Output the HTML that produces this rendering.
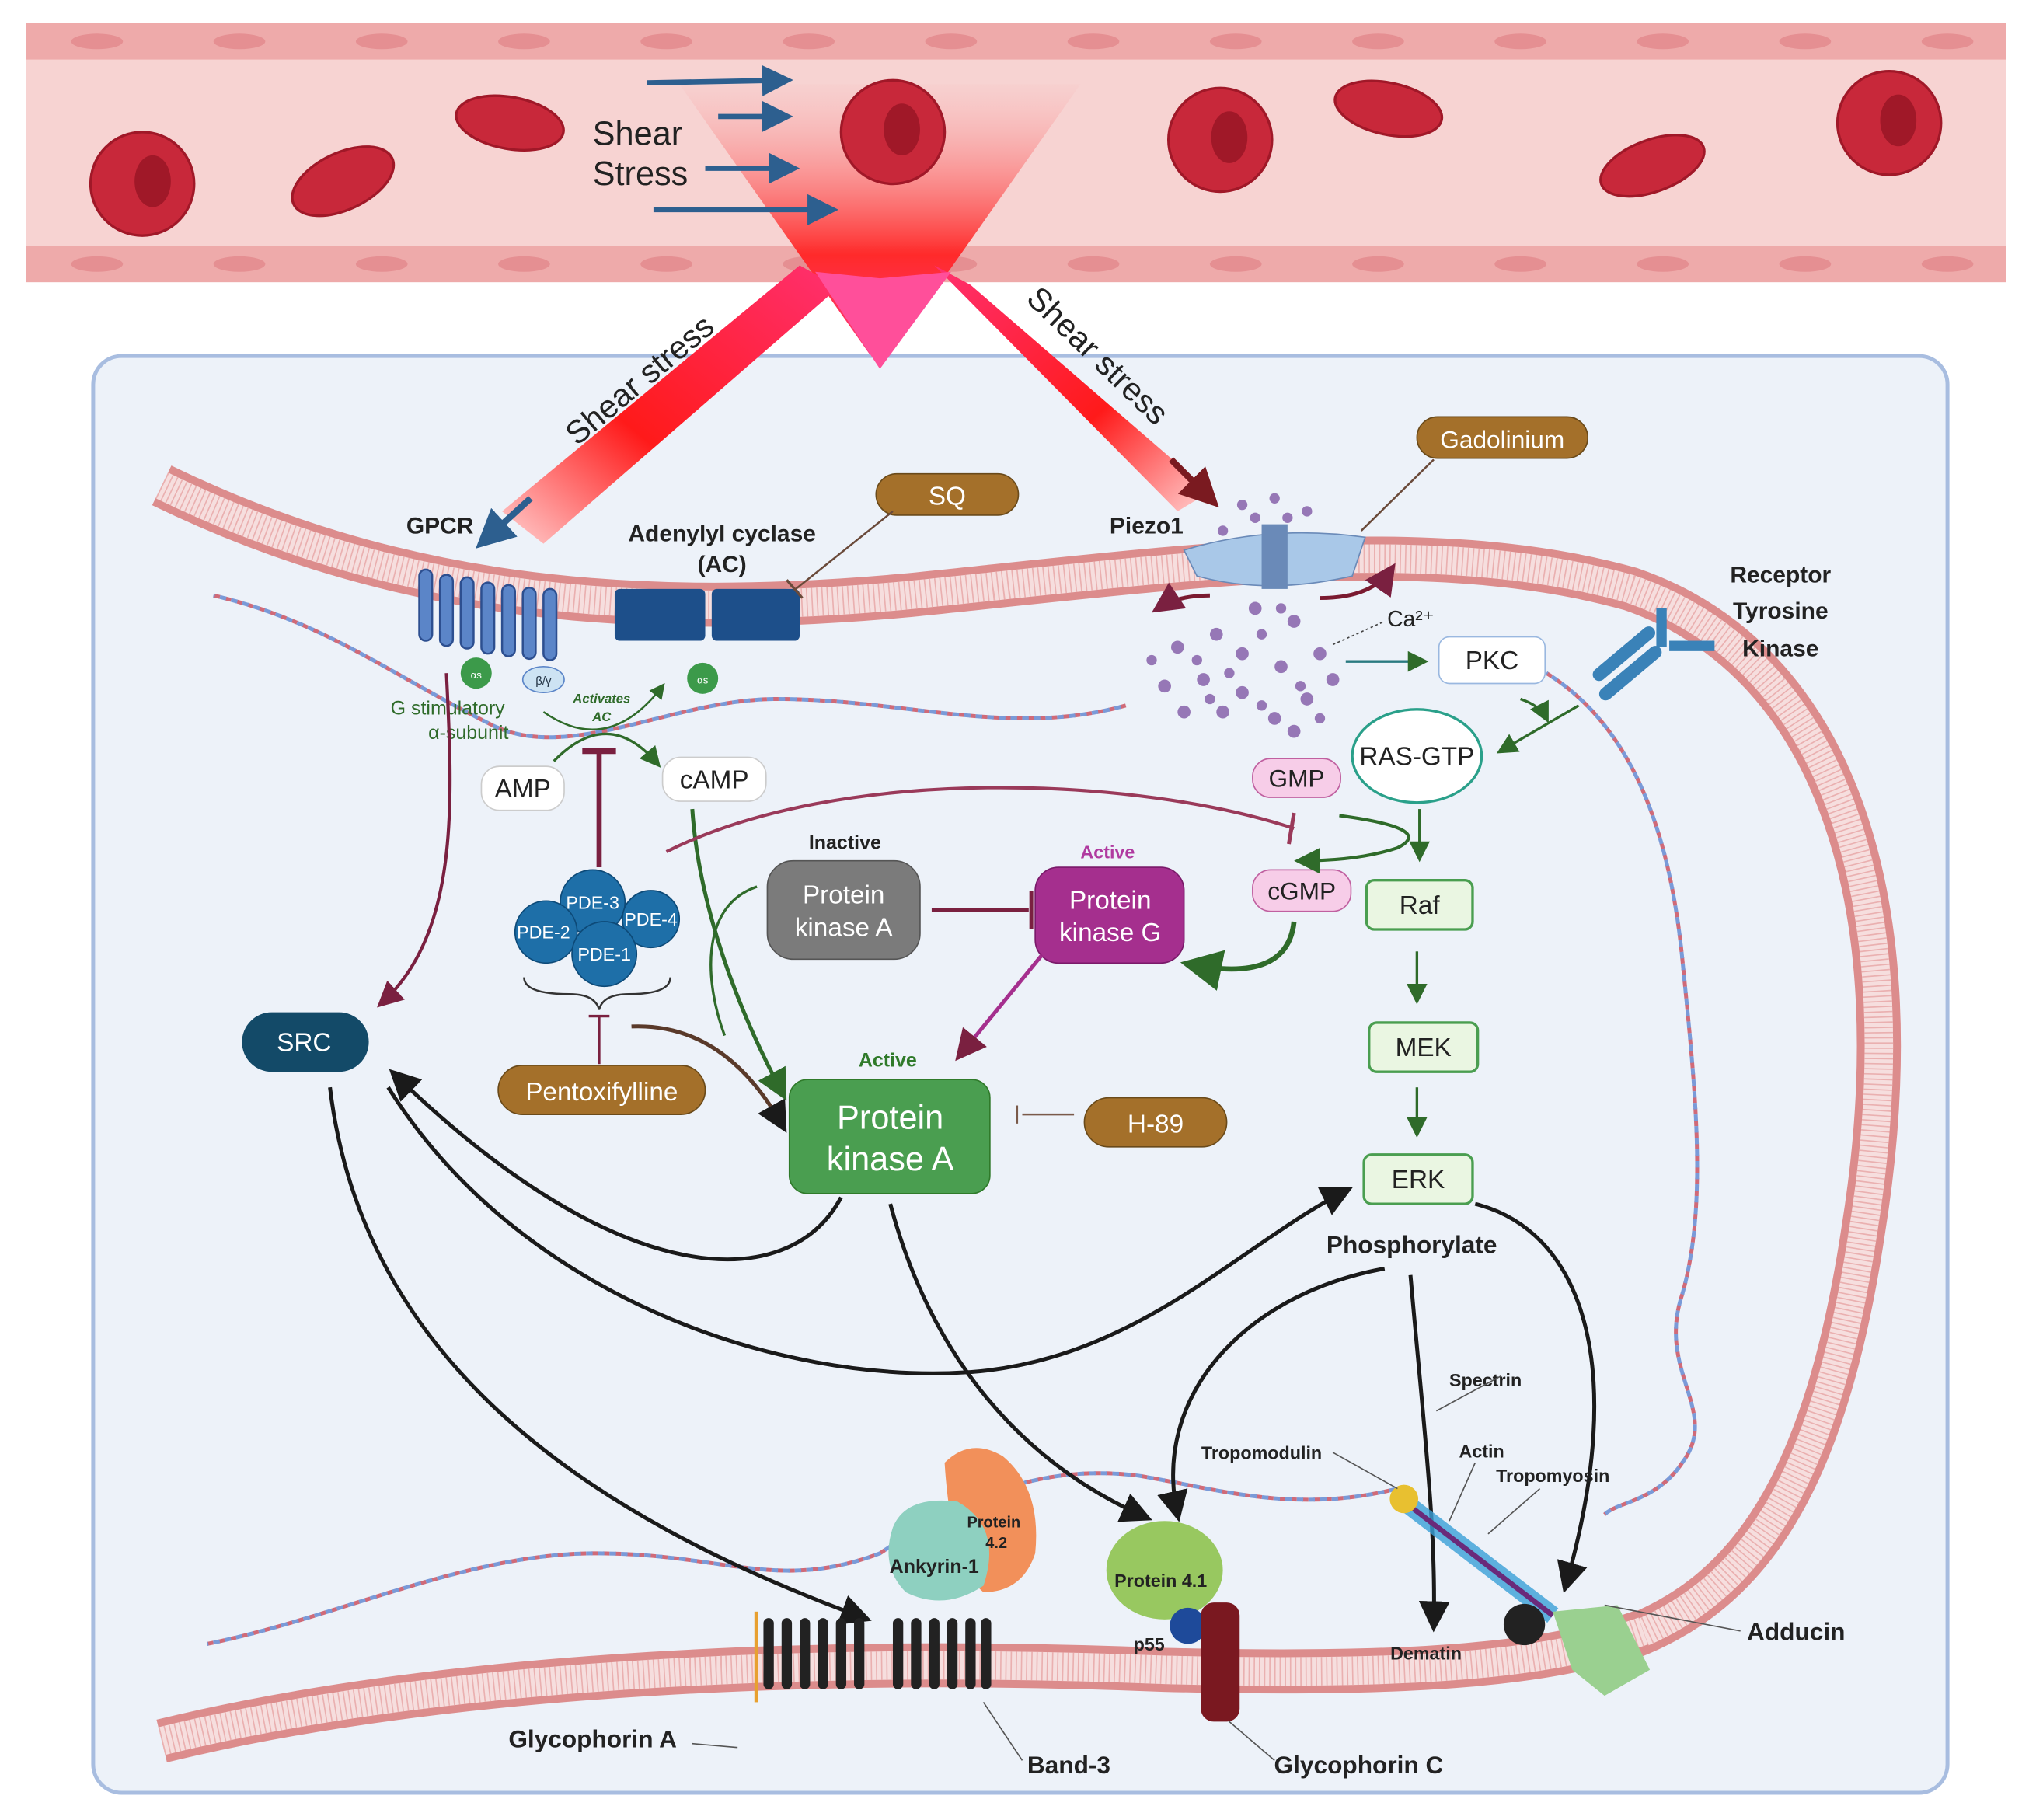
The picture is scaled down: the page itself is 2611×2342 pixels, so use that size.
<!DOCTYPE html>
<html><head><meta charset="utf-8"><style>
html,body{margin:0;padding:0;background:#fff;}
svg{display:block;}
text{font-family:"Liberation Sans",sans-serif;}
</style></head><body>
<svg width="2611" height="2342" viewBox="0 0 1568 1406" preserveAspectRatio="none" xmlns="http://www.w3.org/2000/svg">
<defs>
<linearGradient id="tri" x1="0" y1="0" x2="0" y2="1"><stop offset="0" stop-color="#f7c9c9" stop-opacity="0.3"/><stop offset="0.6" stop-color="#ff2a2a"/><stop offset="1" stop-color="#ff3d8a"/></linearGradient>
<linearGradient id="bl" x1="1" y1="0" x2="0" y2="1"><stop offset="0" stop-color="#ff3070"/><stop offset="0.6" stop-color="#ff1a1a"/><stop offset="1" stop-color="#ffd0d0"/></linearGradient>
<linearGradient id="br" x1="0" y1="0" x2="1" y2="1"><stop offset="0" stop-color="#ff3070"/><stop offset="0.6" stop-color="#ff1a1a"/><stop offset="1" stop-color="#ffd0d0"/></linearGradient>
<marker id="ak" markerWidth="8" markerHeight="8" refX="6" refY="4" orient="auto" markerUnits="strokeWidth"><path d="M0,0 L8,4 L0,8 z" fill="#1a1a1a"/></marker>
<marker id="ag" markerWidth="8" markerHeight="8" refX="6" refY="4" orient="auto" markerUnits="strokeWidth"><path d="M0,0 L8,4 L0,8 z" fill="#2f6b2a"/></marker>
<marker id="am" markerWidth="8" markerHeight="8" refX="6" refY="4" orient="auto" markerUnits="strokeWidth"><path d="M0,0 L8,4 L0,8 z" fill="#7a2040"/></marker>
<marker id="ab" markerWidth="6" markerHeight="6" refX="4" refY="3" orient="auto" markerUnits="strokeWidth"><path d="M0,0 L6,3 L0,6 z" fill="#2d5f8f"/></marker>
<marker id="ar" markerWidth="6" markerHeight="6" refX="4" refY="3" orient="auto" markerUnits="strokeWidth"><path d="M0,0 L6,3 L0,6 z" fill="#7a1a20"/></marker>
</defs>
<!-- vessel -->
<rect x="20" y="18" width="1530" height="200" fill="#f7d3d2"/>
<rect x="20" y="18" width="1530" height="28" fill="#eeaaaa"/>
<rect x="20" y="190" width="1530" height="28" fill="#eeaaaa"/>
<g fill="#e58f92">
<ellipse cx="75" cy="32" rx="20" ry="6"/><ellipse cx="185" cy="32" rx="20" ry="6"/><ellipse cx="295" cy="32" rx="20" ry="6"/><ellipse cx="405" cy="32" rx="20" ry="6"/><ellipse cx="515" cy="32" rx="20" ry="6"/><ellipse cx="625" cy="32" rx="20" ry="6"/><ellipse cx="735" cy="32" rx="20" ry="6"/><ellipse cx="845" cy="32" rx="20" ry="6"/><ellipse cx="955" cy="32" rx="20" ry="6"/><ellipse cx="1065" cy="32" rx="20" ry="6"/><ellipse cx="1175" cy="32" rx="20" ry="6"/><ellipse cx="1285" cy="32" rx="20" ry="6"/><ellipse cx="1395" cy="32" rx="20" ry="6"/><ellipse cx="1505" cy="32" rx="20" ry="6"/>
<ellipse cx="75" cy="204" rx="20" ry="6"/><ellipse cx="185" cy="204" rx="20" ry="6"/><ellipse cx="295" cy="204" rx="20" ry="6"/><ellipse cx="405" cy="204" rx="20" ry="6"/><ellipse cx="515" cy="204" rx="20" ry="6"/><ellipse cx="625" cy="204" rx="20" ry="6"/><ellipse cx="735" cy="204" rx="20" ry="6"/><ellipse cx="845" cy="204" rx="20" ry="6"/><ellipse cx="955" cy="204" rx="20" ry="6"/><ellipse cx="1065" cy="204" rx="20" ry="6"/><ellipse cx="1175" cy="204" rx="20" ry="6"/><ellipse cx="1285" cy="204" rx="20" ry="6"/><ellipse cx="1395" cy="204" rx="20" ry="6"/><ellipse cx="1505" cy="204" rx="20" ry="6"/>
</g>
<g fill="#c8283a" stroke="#a01828" stroke-width="2">
<circle cx="110" cy="142" r="40"/><ellipse cx="265" cy="140" rx="42" ry="22" transform="rotate(-25 265 140)"/><ellipse cx="394" cy="95" rx="42" ry="20" transform="rotate(10 394 95)"/><circle cx="943" cy="108" r="40"/><ellipse cx="1073" cy="84" rx="42" ry="20" transform="rotate(12 1073 84)"/><ellipse cx="1277" cy="128" rx="42" ry="20" transform="rotate(-20 1277 128)"/><circle cx="1460" cy="95" r="40"/>
</g>
<g fill="#a01828"><ellipse cx="118" cy="140" rx="14" ry="20"/><ellipse cx="950" cy="106" rx="14" ry="20"/><ellipse cx="1467" cy="93" rx="14" ry="20"/></g>
<!-- triangle -->
<path d="M525,65 L835,65 L680,285 z" fill="url(#tri)"/>
<circle cx="690" cy="102" r="40" fill="#c8283a" stroke="#a01828" stroke-width="2"/>
<ellipse cx="697" cy="100" rx="14" ry="20" fill="#a01828"/>
<g stroke="#2d5f8f" stroke-width="4" fill="none" marker-end="url(#ab)">
<line x1="500" y1="64" x2="605" y2="62"/><line x1="555" y1="90" x2="605" y2="90"/><line x1="545" y1="130" x2="610" y2="130"/><line x1="505" y1="162" x2="640" y2="162"/>
</g>
<text x="458" y="112" font-size="26" fill="#222">Shear</text><text x="458" y="143" font-size="26" fill="#222">Stress</text>
<!-- cell -->
<rect x="72" y="275" width="1433" height="1110" rx="22" fill="#edf2f9" stroke="#a8bde0" stroke-width="3"/>
<!-- membranes -->
<g fill="none">
<path d="M125,375 C300,460 480,480 700,460 C900,440 1100,410 1260,455 C1420,510 1480,700 1440,950 C1410,1150 1350,1230 1260,1265" stroke="#dc8c8c" stroke-width="34"/>
<path d="M125,375 C300,460 480,480 700,460 C900,440 1100,410 1260,455 C1420,510 1480,700 1440,950 C1410,1150 1350,1230 1260,1265" stroke="#f6dede" stroke-width="22"/>
<path d="M125,375 C300,460 480,480 700,460 C900,440 1100,410 1260,455 C1420,510 1480,700 1440,950 C1410,1150 1350,1230 1260,1265" stroke="#eab0b0" stroke-width="22" stroke-dasharray="1,3"/>
<path d="M125,1345 C350,1290 650,1280 900,1290 C1100,1295 1200,1285 1270,1260" stroke="#dc8c8c" stroke-width="34"/>
<path d="M125,1345 C350,1290 650,1280 900,1290 C1100,1295 1200,1285 1270,1260" stroke="#f6dede" stroke-width="22"/>
<path d="M125,1345 C350,1290 650,1280 900,1290 C1100,1295 1200,1285 1270,1260" stroke="#eab0b0" stroke-width="22" stroke-dasharray="1,3"/>
</g>
<!-- shear beams -->
<path d="M618,205 L648,222 L420,420 L388,395 z" fill="url(#bl)"/>
<path d="M722,205 L750,220 L935,380 L910,395 z" fill="url(#br)"/>
<path d="M680,215 L735,210 L680,285 L630,210z" fill="#ff4f9a"/>
<text x="0" y="0" font-size="25" fill="#222" transform="translate(446,345) rotate(-40)">Shear stress</text>
<text x="0" y="0" font-size="25" fill="#222" transform="translate(792,232) rotate(44)">Shear stress</text>
<line x1="410" y1="385" x2="375" y2="417" stroke="#2d5f8f" stroke-width="5" marker-end="url(#ab)"/>
<line x1="905" y1="355" x2="935" y2="385" stroke="#7a1a20" stroke-width="5" marker-end="url(#ar)"/>
<!-- spectrin helices -->
<g fill="none" stroke-width="3" stroke-dasharray="5,4">
<path d="M165,460 C250,480 300,520 380,560 C440,590 520,540 600,540 C700,540 780,570 870,545" stroke="#d06a78"/>
<path d="M165,460 C250,480 300,520 380,560 C440,590 520,540 600,540 C700,540 780,570 870,545" stroke="#7a9ad8" stroke-dashoffset="4"/>
<path d="M1195,520 C1260,560 1290,640 1300,740 C1310,840 1320,930 1300,1000 C1280,1060 1330,1090 1300,1130 C1280,1160 1250,1160 1240,1170" stroke="#d06a78"/>
<path d="M1195,520 C1260,560 1290,640 1300,740 C1310,840 1320,930 1300,1000 C1280,1060 1330,1090 1300,1130 C1280,1160 1250,1160 1240,1170" stroke="#7a9ad8" stroke-dashoffset="4"/>
<path d="M160,1270 C260,1250 360,1200 460,1200 C560,1200 600,1230 680,1200 C740,1160 800,1130 880,1140 C940,1150 1000,1170 1080,1150" stroke="#d06a78"/>
<path d="M160,1270 C260,1250 360,1200 460,1200 C560,1200 600,1230 680,1200 C740,1160 800,1130 880,1140 C940,1150 1000,1170 1080,1150" stroke="#7a9ad8" stroke-dashoffset="4"/>
</g>
<!-- GPCR -->
<g fill="#5b85c8" stroke="#2d4f90" stroke-width="1.5">
<rect x="324" y="440" width="10" height="55" rx="5"/><rect x="340" y="444" width="10" height="55" rx="5"/><rect x="356" y="446" width="10" height="55" rx="5"/><rect x="372" y="450" width="10" height="55" rx="5"/><rect x="388" y="452" width="10" height="55" rx="5"/><rect x="404" y="454" width="10" height="55" rx="5"/><rect x="420" y="455" width="10" height="55" rx="5"/>
</g>
<g fill="#1d4f8a"><rect x="475" y="455" width="70" height="40" rx="4"/><rect x="550" y="455" width="68" height="40" rx="4"/></g>
<circle cx="368" cy="520" r="12" fill="#3c9a4a"/><text x="368" y="524" font-size="8" fill="#fff" text-anchor="middle">αs</text>
<ellipse cx="420" cy="525" rx="16" ry="10" fill="#cde3f3" stroke="#5b85c8"/><text x="420" y="529" font-size="9" fill="#234" text-anchor="middle">β/γ</text>
<circle cx="543" cy="524" r="12" fill="#3c9a4a"/><text x="543" y="528" font-size="8" fill="#fff" text-anchor="middle">αs</text>
<text x="340" y="412" font-size="18" font-weight="bold" fill="#222" text-anchor="middle">GPCR</text>
<text x="558" y="418" font-size="18" font-weight="bold" fill="#222" text-anchor="middle">Adenylyl cyclase</text>
<text x="558" y="442" font-size="18" font-weight="bold" fill="#222" text-anchor="middle">(AC)</text>
<text x="346" y="552" font-size="15" fill="#2f6b2a" text-anchor="middle">G stimulatory</text>
<text x="362" y="571" font-size="15" fill="#2f6b2a" text-anchor="middle">α-subunit</text>
<text x="465" y="543" font-size="10" font-style="italic" font-weight="bold" fill="#2f6b2a" text-anchor="middle">Activates</text>
<text x="465" y="557" font-size="10" font-style="italic" font-weight="bold" fill="#2f6b2a" text-anchor="middle">AC</text>
<path d="M420,550 Q470,585 512,530" fill="none" stroke="#2f6b2a" stroke-width="1.5" marker-end="url(#ag)"/>
<!-- SQ -->
<rect x="677" y="366" width="110" height="32" rx="16" fill="#a4702a" stroke="#6a4a1a"/><text x="732" y="390" font-size="20" fill="#fff" text-anchor="middle">SQ</text>
<line x1="690" y1="395" x2="615" y2="455" stroke="#6a4a3a" stroke-width="1.5"/><line x1="608" y1="448" x2="620" y2="462" stroke="#6a4a3a" stroke-width="2"/>
<!-- AMP cAMP -->
<rect x="372" y="592" width="64" height="34" rx="14" fill="#fff" stroke="#ccc"/><text x="404" y="616" font-size="20" fill="#222" text-anchor="middle">AMP</text>
<rect x="512" y="585" width="80" height="34" rx="14" fill="#fff" stroke="#ccc"/><text x="552" y="609" font-size="20" fill="#222" text-anchor="middle">cAMP</text>
<path d="M428,588 Q470,545 508,590" fill="none" stroke="#2f6b2a" stroke-width="2" marker-end="url(#ag)"/>
<line x1="463" y1="580" x2="463" y2="670" stroke="#7a2040" stroke-width="4"/><line x1="450" y1="580" x2="476" y2="580" stroke="#7a2040" stroke-width="5"/>
<!-- PDE -->
<g fill="#1e6fa8" stroke="#0d4a78">
<circle cx="458" cy="697" r="25"/><circle cx="503" cy="710" r="22"/><circle cx="422" cy="720" r="24"/><circle cx="467" cy="737" r="25"/>
</g>
<g fill="#fff" font-size="14" text-anchor="middle"><text x="458" y="702">PDE-3</text><text x="503" y="715">PDE-4</text><text x="420" y="725">PDE-2</text><text x="467" y="742">PDE-1</text></g>
<path d="M405,755 Q405,768 440,768 Q460,768 463,780 Q466,768 486,768 Q518,768 518,755" fill="none" stroke="#333" stroke-width="1.5"/>
<line x1="463" y1="785" x2="463" y2="822" stroke="#7a2040" stroke-width="2"/><line x1="455" y1="785" x2="471" y2="785" stroke="#7a2040" stroke-width="2"/>
<rect x="385" y="823" width="160" height="38" rx="19" fill="#a4702a" stroke="#6a4a1a"/><text x="465" y="850" font-size="20" fill="#fff" text-anchor="middle">Pentoxifylline</text>
<path d="M488,793 Q560,790 605,870" fill="none" stroke="#5a3a2a" stroke-width="3" marker-end="url(#ak)"/>
<!-- SRC -->
<rect x="187" y="782" width="98" height="46" rx="23" fill="#134a68"/><text x="235" y="812" font-size="20" fill="#fff" text-anchor="middle">SRC</text>
<path d="M345,520 C350,620 355,720 295,775" fill="none" stroke="#7a2040" stroke-width="2.5" marker-end="url(#am)"/>
<!-- Inactive PKA -->
<text x="653" y="656" font-size="15" font-weight="bold" fill="#222" text-anchor="middle">Inactive</text>
<rect x="593" y="665" width="118" height="76" rx="20" fill="#7b7b7b" stroke="#555"/>
<text x="652" y="698" font-size="20" fill="#fff" text-anchor="middle">Protein</text><text x="652" y="723" font-size="20" fill="#fff" text-anchor="middle">kinase A</text>
<line x1="720" y1="703" x2="795" y2="703" stroke="#7a2040" stroke-width="3"/><line x1="797" y1="688" x2="797" y2="718" stroke="#7a2040" stroke-width="3"/>
<!-- PKG -->
<text x="856" y="663" font-size="14" font-weight="bold" fill="#b03aa0" text-anchor="middle">Active</text>
<rect x="800" y="670" width="115" height="74" rx="18" fill="#a52f8e" stroke="#7a1a6a"/>
<text x="858" y="702" font-size="20" fill="#fff" text-anchor="middle">Protein</text><text x="858" y="727" font-size="20" fill="#fff" text-anchor="middle">kinase G</text>
<line x1="805" y1="738" x2="742" y2="815" stroke="#a52f8e" stroke-width="3" marker-end="url(#am)"/>
<!-- Active PKA -->
<text x="686" y="824" font-size="15" font-weight="bold" fill="#2f7a2a" text-anchor="middle">Active</text>
<rect x="610" y="834" width="155" height="88" rx="14" fill="#4a9e50" stroke="#2f7a2a"/>
<text x="688" y="872" font-size="26" fill="#fff" text-anchor="middle">Protein</text><text x="688" y="904" font-size="26" fill="#fff" text-anchor="middle">kinase A</text>
<path d="M535,625 C540,700 570,780 605,845" fill="none" stroke="#2f6b2a" stroke-width="3" marker-end="url(#ag)"/>
<path d="M585,685 C540,700 545,760 560,800" fill="none" stroke="#2f6b2a" stroke-width="2"/>
<rect x="838" y="848" width="110" height="38" rx="19" fill="#a4702a" stroke="#6a4a1a"/><text x="893" y="875" font-size="20" fill="#fff" text-anchor="middle">H-89</text>
<line x1="830" y1="861" x2="790" y2="861" stroke="#7a5a4a" stroke-width="1.5"/><line x1="786" y1="854" x2="786" y2="868" stroke="#7a5a4a" stroke-width="1.5"/>
<path d="M515,658 C650,590 880,600 1000,640" fill="none" stroke="#9a3a5a" stroke-width="2.5"/><line x1="1000" y1="628" x2="996" y2="652" stroke="#9a3a5a" stroke-width="3"/>
<!-- Piezo -->
<g fill="#7a4fa0" opacity="0.75">
<circle cx="960" cy="390" r="4"/><circle cx="985" cy="385" r="4"/><circle cx="1010" cy="395" r="4"/><circle cx="945" cy="410" r="4"/><circle cx="1000" cy="415" r="4"/><circle cx="970" cy="470" r="5"/><circle cx="1000" cy="480" r="5"/><circle cx="940" cy="490" r="5"/><circle cx="910" cy="500" r="5"/><circle cx="960" cy="505" r="5"/><circle cx="990" cy="515" r="5"/><circle cx="930" cy="525" r="5"/><circle cx="900" cy="530" r="5"/><circle cx="960" cy="535" r="5"/><circle cx="1010" cy="540" r="5"/><circle cx="945" cy="550" r="5"/><circle cx="985" cy="555" r="5"/><circle cx="1020" cy="505" r="5"/><circle cx="915" cy="550" r="5"/><circle cx="1030" cy="525" r="5"/><circle cx="1000" cy="565" r="5"/><circle cx="890" cy="510" r="4"/>
<circle cx="925" cy="510" r="4"/><circle cx="975" cy="490" r="4"/><circle cx="950" cy="520" r="4"/><circle cx="1005" cy="530" r="4"/><circle cx="935" cy="540" r="4"/><circle cx="975" cy="545" r="4"/><circle cx="1020" cy="555" r="4"/><circle cx="990" cy="470" r="4"/><circle cx="970" cy="400" r="4"/><circle cx="995" cy="400" r="4"/>
</g>
<path d="M915,425 Q980,405 1055,415 L1045,445 Q980,460 925,445z" fill="#a9c8e8" stroke="#6a8ab8"/>
<rect x="975" y="405" width="20" height="50" fill="#6a8ab8"/>
<path d="M935,460 Q910,460 895,470" fill="none" stroke="#7a1a30" stroke-width="3" marker-end="url(#am)"/>
<path d="M1020,462 Q1060,462 1075,440" fill="none" stroke="#7a1a30" stroke-width="3" marker-end="url(#am)"/>
<text x="886" y="412" font-size="18" font-weight="bold" fill="#222" text-anchor="middle">Piezo1</text>
<rect x="1095" y="322" width="132" height="32" rx="16" fill="#a4702a" stroke="#6a4a1a"/><text x="1161" y="346" font-size="19" fill="#fff" text-anchor="middle">Gadolinium</text>
<line x1="1108" y1="355" x2="1052" y2="410" stroke="#6a4a3a" stroke-width="1.5"/>
<text x="1072" y="484" font-size="17" fill="#222">Ca²⁺</text>
<line x1="1030" y1="498" x2="1070" y2="480" stroke="#444" stroke-dasharray="2,2"/>
<line x1="1040" y1="511" x2="1100" y2="511" stroke="#2a7a80" stroke-width="2" marker-end="url(#ag)"/>
<rect x="1112" y="492" width="82" height="36" rx="8" fill="#fff" stroke="#9ab8e0"/><text x="1153" y="517" font-size="20" fill="#222" text-anchor="middle">PKC</text>
<!-- RTK -->
<g fill="#3a82b8"><rect x="1225" y="500" width="60" height="10" rx="5" transform="rotate(-40 1255 505)"/><rect x="1230" y="515" width="60" height="10" rx="5" transform="rotate(-40 1260 520)"/><rect x="1280" y="470" width="8" height="30"/><rect x="1290" y="495" width="35" height="8"/></g>
<text x="1376" y="450" font-size="18" font-weight="bold" fill="#222" text-anchor="middle">Receptor</text><text x="1376" y="478" font-size="18" font-weight="bold" fill="#222" text-anchor="middle">Tyrosine</text><text x="1376" y="507" font-size="18" font-weight="bold" fill="#222" text-anchor="middle">Kinase</text>
<path d="M1175,540 Q1190,545 1195,555" fill="none" stroke="#2f6b2a" stroke-width="2" marker-end="url(#ag)"/>
<line x1="1220" y1="545" x2="1160" y2="580" stroke="#2f6b2a" stroke-width="2" marker-end="url(#ag)"/>
<ellipse cx="1095" cy="584" rx="50" ry="36" fill="#fff" stroke="#2aa08a" stroke-width="2"/><text x="1095" y="591" font-size="20" fill="#222" text-anchor="middle">RAS-GTP</text>
<rect x="968" y="586" width="68" height="30" rx="14" fill="#f7cde8" stroke="#c060a0"/><text x="1002" y="608" font-size="19" fill="#222" text-anchor="middle">GMP</text>
<rect x="968" y="672" width="76" height="32" rx="14" fill="#f7cde8" stroke="#c060a0"/><text x="1006" y="695" font-size="19" fill="#222" text-anchor="middle">cGMP</text>
<path d="M1035,630 Q1110,640 1080,655 Q1050,665 1005,665" fill="none" stroke="#2f6b2a" stroke-width="2.5" marker-end="url(#ag)"/>
<path d="M1000,712 Q995,760 920,745" fill="none" stroke="#2f6b2a" stroke-width="4" marker-end="url(#ag)"/>
<!-- Raf MEK ERK -->
<g fill="#eaf6e2" stroke="#4a9e50" stroke-width="2">
<rect x="1056" y="680" width="82" height="38" rx="6"/><rect x="1058" y="790" width="84" height="38" rx="6"/><rect x="1054" y="892" width="84" height="38" rx="6"/>
</g>
<g font-size="20" fill="#222" text-anchor="middle"><text x="1097" y="706">Raf</text><text x="1100" y="816">MEK</text><text x="1096" y="918">ERK</text></g>
<g stroke="#2f6b2a" stroke-width="2" marker-end="url(#ag)"><line x1="1097" y1="625" x2="1097" y2="662"/><line x1="1095" y1="735" x2="1095" y2="772"/><line x1="1095" y1="840" x2="1095" y2="875"/></g>
<text x="1091" y="968" font-size="19" font-weight="bold" fill="#222" text-anchor="middle">Phosphorylate</text>
<!-- black arrows -->
<g fill="none" stroke="#1a1a1a" stroke-width="3">
<path d="M650,925 C610,1000 480,1000 305,830" marker-end="url(#ak)"/>
<path d="M300,840 C400,1000 600,1070 750,1060 C880,1050 960,960 1040,920" marker-end="url(#ak)"/>
<path d="M255,840 C280,1050 450,1170 668,1250" marker-end="url(#ak)"/>
<path d="M688,930 C720,1050 790,1130 885,1172" marker-end="url(#ak)"/>
<path d="M1070,980 C960,1000 890,1080 910,1170" marker-end="url(#ak)"/>
<path d="M1090,985 C1100,1100 1110,1180 1108,1255" marker-end="url(#ak)"/>
<path d="M1140,930 C1220,950 1260,1050 1210,1225" marker-end="url(#ak)"/>
</g>
<!-- bottom proteins -->
<g fill="#222"><rect x="590" y="1250" width="8" height="55" rx="4"/><rect x="604" y="1250" width="8" height="55" rx="4"/><rect x="618" y="1250" width="8" height="55" rx="4"/><rect x="632" y="1250" width="8" height="55" rx="4"/><rect x="646" y="1250" width="8" height="55" rx="4"/><rect x="660" y="1250" width="8" height="55" rx="4"/><rect x="690" y="1250" width="8" height="55" rx="4"/><rect x="704" y="1250" width="8" height="55" rx="4"/><rect x="718" y="1250" width="8" height="55" rx="4"/><rect x="732" y="1250" width="8" height="55" rx="4"/><rect x="746" y="1250" width="8" height="55" rx="4"/><rect x="758" y="1250" width="8" height="55" rx="4"/></g>
<rect x="583" y="1245" width="3" height="70" fill="#e8a030"/>
<path d="M730,1130 Q750,1110 775,1125 Q805,1150 800,1200 Q790,1230 760,1230 Q735,1210 730,1130z" fill="#f2905a"/>
<path d="M690,1180 Q700,1155 740,1160 Q775,1180 760,1225 Q730,1245 700,1230 Q680,1210 690,1180z" fill="#8ed0c0"/>
<text x="722" y="1215" font-size="15" font-weight="bold" fill="#222" text-anchor="middle">Ankyrin-1</text>
<text x="768" y="1180" font-size="12" font-weight="bold" fill="#222" text-anchor="middle">Protein</text><text x="770" y="1196" font-size="12" font-weight="bold" fill="#222" text-anchor="middle">4.2</text>
<ellipse cx="900" cy="1213" rx="45" ry="38" fill="#98c860"/><text x="897" y="1226" font-size="14" font-weight="bold" fill="#222" text-anchor="middle">Protein 4.1</text>
<circle cx="918" cy="1256" r="14" fill="#1e4a9a"/><text x="888" y="1275" font-size="14" font-weight="bold" fill="#222" text-anchor="middle">p55</text>
<rect x="928" y="1238" width="30" height="92" rx="10" fill="#7a1820"/>
<line x1="1085" y1="1160" x2="1200" y2="1248" stroke="#3aa0d8" stroke-width="14" opacity="0.8"/>
<line x1="1085" y1="1160" x2="1200" y2="1248" stroke="#6a2a7a" stroke-width="4"/>
<circle cx="1085" cy="1158" r="11" fill="#e8c030"/>
<circle cx="1178" cy="1255" r="16" fill="#222"/>
<path d="M1200,1245 L1250,1240 L1275,1290 L1240,1310 L1215,1290z" fill="#9ad090"/>
<g font-size="14" font-weight="bold" fill="#222">
<text x="1148" y="1071" text-anchor="middle">Spectrin</text>
<text x="975" y="1127" text-anchor="middle">Tropomodulin</text>
<text x="1145" y="1126" text-anchor="middle">Actin</text>
<text x="1200" y="1145" text-anchor="middle">Tropomyosin</text>
<text x="1102" y="1282" text-anchor="middle">Dematin</text>
</g>
<g font-size="19" font-weight="bold" fill="#222">
<text x="1350" y="1267">Adducin</text>
<text x="458" y="1350" text-anchor="middle">Glycophorin A</text>
<text x="826" y="1370" text-anchor="middle">Band-3</text>
<text x="1050" y="1370" text-anchor="middle">Glycophorin C</text>
</g>
<g stroke="#555" stroke-width="1" fill="none">
<line x1="1345" y1="1260" x2="1240" y2="1240"/><line x1="1160" y1="1063" x2="1110" y2="1090"/><line x1="1030" y1="1122" x2="1080" y2="1150"/><line x1="1140" y1="1130" x2="1120" y2="1175"/><line x1="1190" y1="1150" x2="1150" y2="1185"/>
<line x1="535" y1="1347" x2="570" y2="1350"/><line x1="790" y1="1360" x2="760" y2="1315"/><line x1="985" y1="1360" x2="950" y2="1330"/>
</g>
</svg>
</body></html>
